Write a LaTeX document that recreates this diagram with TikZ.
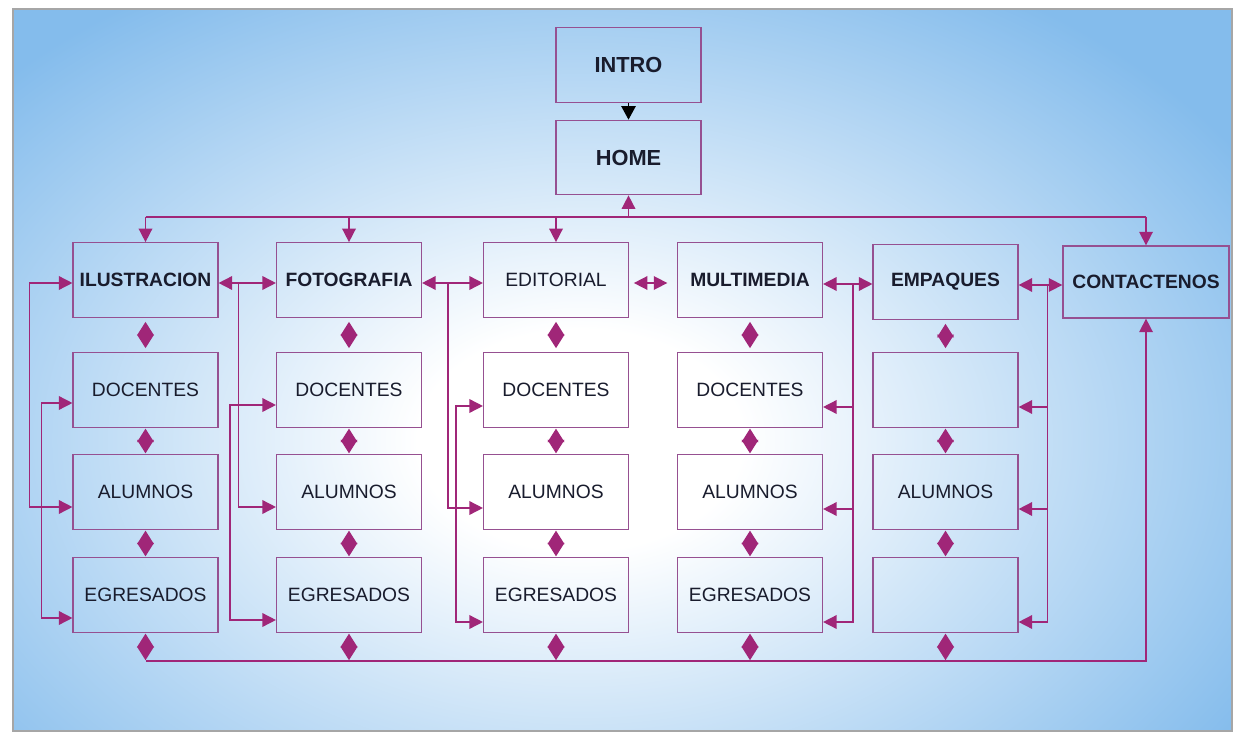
\documentclass[tikz,border=0pt]{standalone}
\usepackage{fontspec}
\setmainfont{Liberation Sans}
\usetikzlibrary{arrows.meta,calc}

\definecolor{skyb}{RGB}{132,188,236}
\definecolor{linkc}{RGB}{160,38,120}
\definecolor{boxline}{RGB}{150,80,145}
\definecolor{inkc}{RGB}{25,28,45}
\pgfdeclareradialshading{glow}{\pgfpoint{0bp}{0bp}}{color(0bp)=(white); color(6bp)=(white); color(29bp)=(skyb); color(50bp)=(skyb)}

\begin{document}
\begin{tikzpicture}[x=0.025cm,y=-0.025cm,
    pagebox/.style={draw=boxline,line width=0.9pt,minimum width=3.62cm,minimum height=1.86cm,
      inner sep=0pt,text=inkc,font=\fontsize{13.7}{16}\selectfont\bfseries},
    subbox/.style={pagebox,font=\fontsize{13.7}{16}\selectfont},
    link/.style={draw=linkc,line width=1.1pt},
    tip/.style={link,-{Triangle[length=3.4mm,width=3.4mm]}},
    dbl/.style={link,{Triangle[length=3.4mm,width=3.4mm]}-{Triangle[length=3.4mm,width=3.4mm]}},
    gem/.style={link,{Triangle[length=3.4mm,width=4.2mm]}-{Triangle[length=3.4mm,width=4.2mm]},
      shorten <=#1,shorten >=#1},
    gem/.default=0.2mm]
  \useasboundingbox (0,0) rectangle (1234,734);
  \begin{scope}
    \clip (13,9) rectangle (1232,731);
    \shade[shading=glow] (-95,-20) rectangle (1255,900);
  \end{scope}
  \draw[gray!70,line width=0.8pt] (13,9) rectangle (1232,731);

  % entrada
  \node[pagebox,font=\fontsize{15.5}{18}\selectfont\bfseries] (intro) at (628.5,65) {INTRO};
  \node[pagebox,font=\fontsize{15.5}{18}\selectfont\bfseries] (home) at (628.5,157.5) {HOME};
  \draw[line width=1.1pt,-{Triangle[length=3.4mm,width=3.6mm]}] (intro.south) -- (home.north);

  % secciones
  \node[pagebox] (ilus) at (145.5,280) {ILUSTRACION};
  \node[pagebox] (foto) at (349,280) {FOTOGRAFIA};
  \node[subbox] (edit) at (556,280) {EDITORIAL};
  \node[pagebox] (multi) at (750,280) {MULTIMEDIA};
  \node[pagebox] (emp) at (945.5,282) {EMPAQUES};
  \node[pagebox,minimum width=4.15cm,minimum height=1.8cm] (cont) at (1146,282) {CONTACTENOS};

  \foreach \c/\x/\p/\q/\r in {1/145.5/DOCENTES/ALUMNOS/EGRESADOS,2/349/DOCENTES/ALUMNOS/EGRESADOS,
      3/556/DOCENTES/ALUMNOS/EGRESADOS,4/750/DOCENTES/ALUMNOS/EGRESADOS,5/945.5/{}/ALUMNOS/{}}
  {
    \node[subbox] (doc\c) at (\x,390) {\p};
    \node[subbox] (alu\c) at (\x,492) {\q};
    \node[subbox] (egr\c) at (\x,595) {\r};
  }

  % buses
  \coordinate (tbus) at (628.5,217);
  \coordinate (bbus) at (145.5,661);
  \draw[link] (ilus.north |- tbus) -- (cont.north |- tbus);
  \foreach \t in {ilus,foto,edit,cont}
    \draw[tip] (\t.north |- tbus) -- (\t.north);
  \draw[tip] (tbus) -- (home.south);
  \draw[tip] (egr1.south |- bbus) -| (cont.south);

  % columnas
  \foreach \t/\c in {ilus/1,foto/2,edit/3,multi/4,emp/5}
  {
    \draw[gem=1mm] (\t.south) -- (doc\c.north);
    \draw[gem] (doc\c.south) -- (alu\c.north);
    \draw[gem] (alu\c.south) -- (egr\c.north);
    \draw[gem] (egr\c.south) -- (egr\c.south |- bbus);
  }

  % enlaces laterales
  \draw[dbl] ($(ilus.west)+(0,3)$) -- ++(-43,0) |- ($(alu1.west)+(0,15)$);
  \draw[dbl] ($(doc1.west)+(0,13)$) -- ++(-31,0) |- ($(egr1.west)+(0,23)$);

  \draw[dbl] ($(ilus.east)+(0,3)$) -- ($(foto.west)+(0,3)$);
  \draw[tip] ($(ilus.east)+(20,3)$) |- ($(alu2.west)+(0,15)$);
  \draw[dbl] ($(doc2.west)+(0,15)$) -- ++(-46,0) |- ($(egr2.west)+(0,25)$);

  \draw[dbl] ($(foto.east)+(0,3)$) -- ($(edit.west)+(0,3)$);
  \draw[tip] ($(foto.east)+(26,3)$) |- ($(alu3.west)+(0,16)$);
  \draw[dbl] ($(doc3.west)+(0,16)$) -- ++(-27,0) |- ($(egr3.west)+(0,27)$);

  \draw[dbl,shorten <=1.2mm,shorten >=2.4mm] ($(edit.east)+(0,3)$) -- ($(multi.west)+(0,3)$);

  \draw[dbl] ($(multi.east)+(0,4)$) -- ($(emp.west)+(0,2)$);
  \draw[tip] ($(multi.east)+(30,4)$) |- ($(egr4.east)+(0,27)$);
  \draw[tip] ($(doc4.east)+(30,17)$) -- ($(doc4.east)+(0,17)$);
  \draw[tip] ($(alu4.east)+(30,17)$) -- ($(alu4.east)+(0,17)$);

  \draw[dbl] ($(emp.east)+(0,3)$) -- ($(cont.west)+(0,3)$);
  \draw[tip] ($(emp.east)+(29,3)$) |- ($(egr5.east)+(0,27)$);
  \draw[tip] ($(doc5.east)+(29,17)$) -- ($(doc5.east)+(0,17)$);
  \draw[tip] ($(alu5.east)+(29,17)$) -- ($(alu5.east)+(0,17)$);
\end{tikzpicture}
\end{document}
